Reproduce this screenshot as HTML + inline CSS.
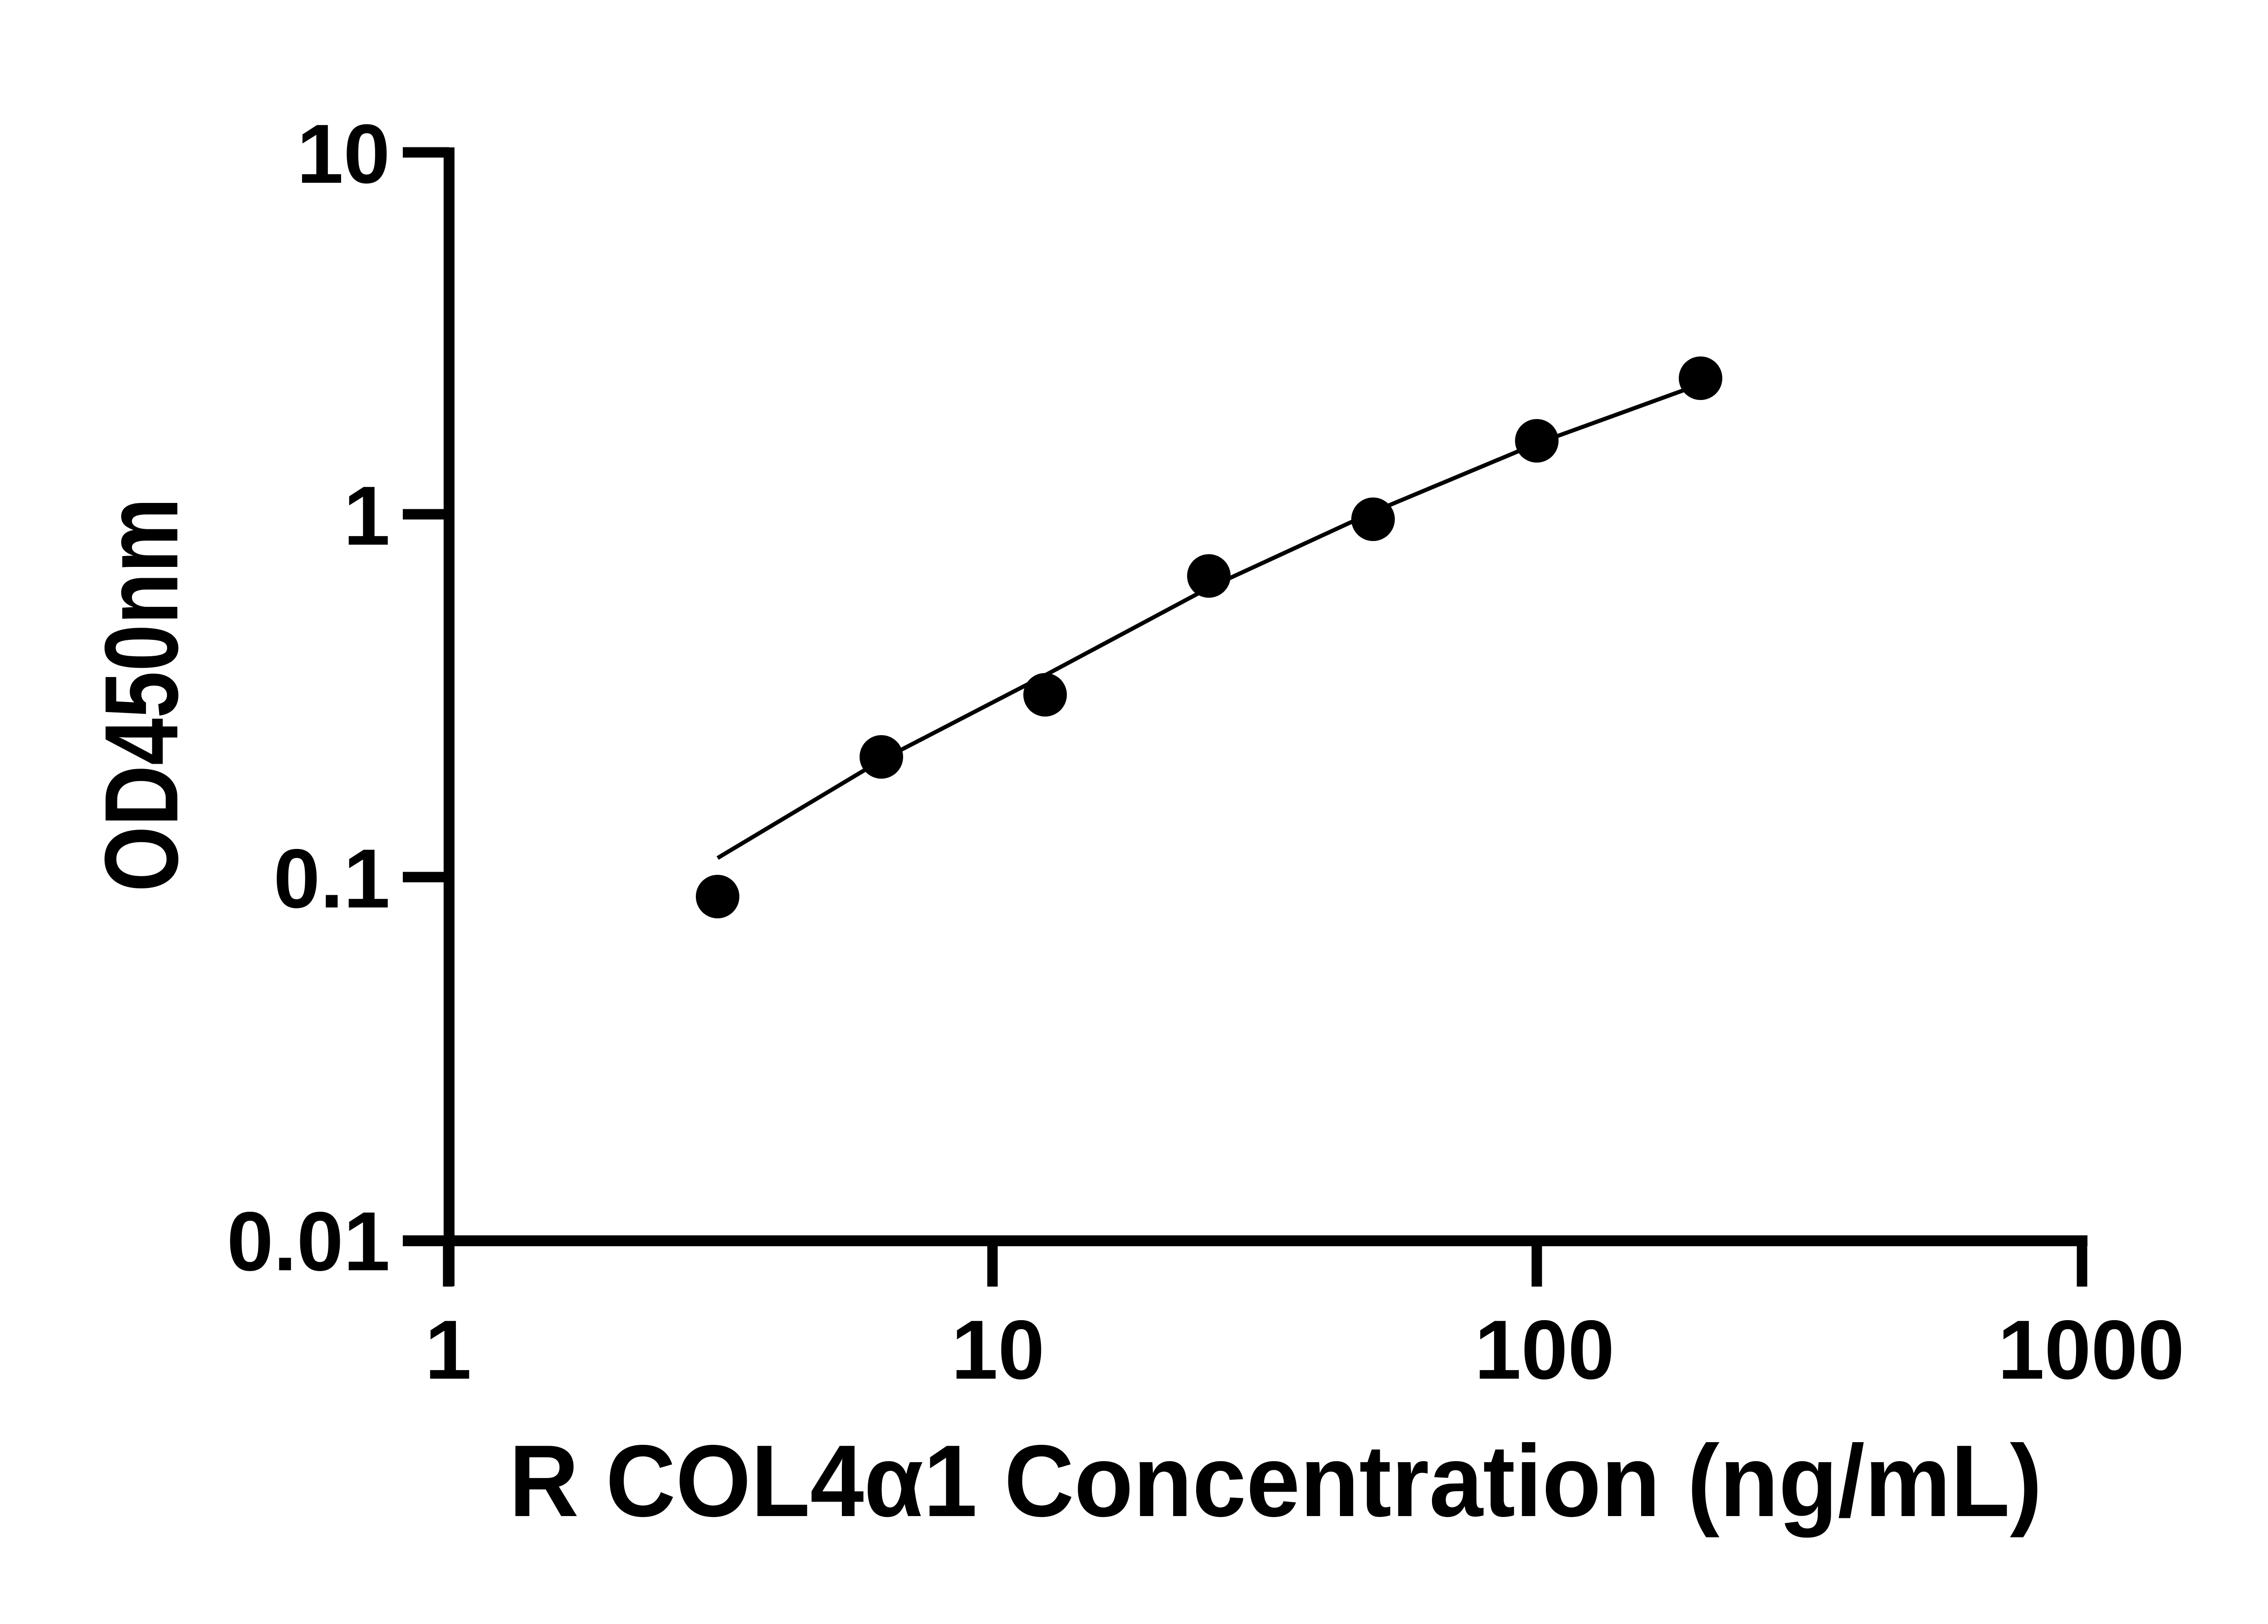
<!DOCTYPE html>
<html><head><style>html,body{margin:0;padding:0;background:#fff}</style></head>
<body>
<svg width="5142" height="3576" viewBox="0 0 5142 3576" xmlns="http://www.w3.org/2000/svg" font-family="Liberation Sans, sans-serif" font-weight="bold">
<rect width="5142" height="3576" fill="#fff"/>
<!-- axes -->
<line x1="990" y1="325" x2="990" y2="2836" stroke="#000" stroke-width="24"/>
<line x1="888" y1="2736" x2="4602" y2="2736" stroke="#000" stroke-width="24"/>
<g stroke="#000" stroke-width="23">
<line x1="888" y1="336" x2="990" y2="336"/>
<line x1="888" y1="1134" x2="990" y2="1134"/>
<line x1="888" y1="1934" x2="990" y2="1934"/>
<line x1="988" y1="2736" x2="988" y2="2837"/>
<line x1="2188" y1="2736" x2="2188" y2="2837"/>
<line x1="3388" y1="2736" x2="3388" y2="2837"/>
<line x1="4590" y1="2736" x2="4590" y2="2837"/>
</g>
<g font-size="185" text-anchor="end">
<text x="860" y="403">10</text>
<text x="860" y="1201">1</text>
<text x="860" y="2001">0.1</text>
<text x="860" y="2801">0.01</text>
</g>
<g font-size="185" text-anchor="middle">
<text x="988" y="3040">1</text>
<text x="2200" y="3040">10</text>
<text x="3405" y="3040">100</text>
<text x="4610" y="3040">1000</text>
</g>
<text x="2812" y="3343" font-size="225" text-anchor="middle" textLength="3380" lengthAdjust="spacingAndGlyphs">R COL4α1 Concentration (ng/mL)</text>
<text transform="translate(391,1532) rotate(-90)" font-size="230" text-anchor="middle" textLength="869" lengthAdjust="spacingAndGlyphs">OD450nm</text>
<polyline fill="none" stroke="#000" stroke-width="9" points="1582,1892 1943,1676 2304,1489 2665,1296 3027,1129 3388,978 3749,847"/>
<g fill="#000">
<circle cx="1582" cy="1977" r="48"/>
<circle cx="1943" cy="1669" r="48"/>
<circle cx="2304" cy="1532" r="48"/>
<circle cx="2665" cy="1270" r="48"/>
<circle cx="3027" cy="1145" r="48"/>
<circle cx="3388" cy="972" r="48"/>
<circle cx="3749" cy="834" r="48"/>
</g>
</svg>
</body></html>
